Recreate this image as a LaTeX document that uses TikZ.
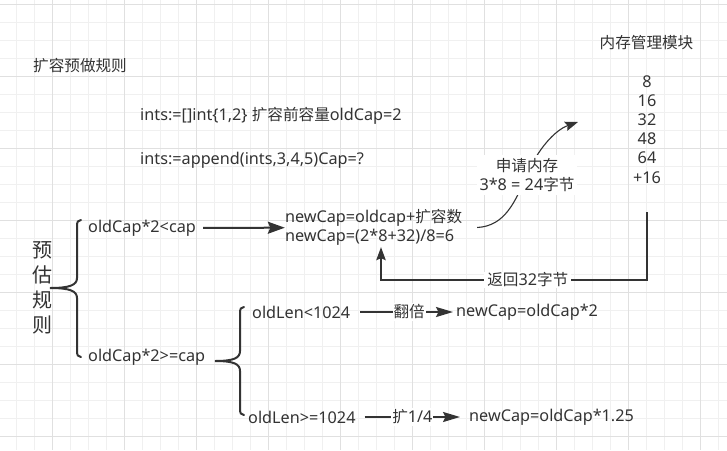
\documentclass[tikz,border=0pt]{standalone}
\usepackage{fontspec}
\setmainfont{Noto Sans}[Scale=1.04]
\newfontfamily\cjk{Noto Sans CJK SC}
\usetikzlibrary{arrows.meta}
\definecolor{ink}{HTML}{333333}
\definecolor{gridminor}{HTML}{F0F0F0}
\definecolor{gridmajor}{HTML}{E0E0E0}
\newcommand{\zh}[1]{{\cjk #1}}

\begin{document}
\begin{tikzpicture}[x=1pt,y=-1pt]

\tikzstyle{txt} = [inner sep=0, text=ink, font=\fontsize{15.6}{19}\selectfont]%
\tikzstyle{txtw} = [txt, anchor=west]%
\tikzstyle{lblbox} = [txt, fill=white, inner xsep=1pt, inner ysep=2pt]%
\tikzstyle{bigarc} = [draw=ink, line width=2pt, -{Stealth[length=17pt,width=12pt,inset=2.5pt]}]%
\tikzstyle{midarc} = [draw=ink, line width=2pt, -{Stealth[length=17pt,width=10pt,inset=2.5pt]}]%
\tikzstyle{thinarc} = [draw=ink, line width=1.1pt, -{Stealth[length=13pt,width=9.5pt,inset=2pt]}]%
\tikzstyle{brace} = [draw=ink, line width=2pt, line cap=round]%

% background grid
\fill[white] (0,0) rectangle (727,450);
\useasboundingbox (0,0) rectangle (727,450);
\foreach \k in {0,...,39} \draw[gridminor, line width=1pt] (16.7+18*\k,0) -- (16.7+18*\k,450);
\foreach \k in {0,...,24} \draw[gridminor, line width=1pt] (0,4+18*\k) -- (727,4+18*\k);
\foreach \k in {0,...,9} \draw[gridmajor, line width=1pt] (52.7+72*\k,0) -- (52.7+72*\k,450);
\foreach \k in {0,...,6} \draw[gridmajor, line width=1pt] (0,4+72*\k) -- (727,4+72*\k);

% texts
\node[txtw] (title) at (33,66) {\zh{扩容预做规则}};
\node[txt] (mem) at (646.5,43) {\zh{内存管理模块}};
\node[txt, align=center, font=\fontsize{15.6}{19.1}\selectfont] (memlist) at (647,129.5) {8\\16\\32\\48\\64\\+16};
\coordinate (memout) at (647,212);

\node[txtw] (ints1) at (140,116) {ints:=[]int\{1,2\} \zh{扩容前容量}oldCap=2};
\node[txtw] (ints2) at (140,160) {ints:=append(ints,3,4,5)Cap=?};

\node[txt, align=center, font=\fontsize{20}{25}\selectfont] (rule) at (42,287.5) {\zh{预}\\\zh{估}\\\zh{规}\\\zh{则}};

\node[txtw] (cond1) at (88,228) {oldCap*2<cap};
\node[txtw] (cond2) at (88,357) {oldCap*2>=cap};
\node[txt, text width=192pt, align=left, minimum height=39pt] (newcap) at (381,227.5)
    {newCap=oldcap+\zh{扩容数}\\newCap=(2*8+32)/8=6};

\node[txtw] (len1) at (252,312) {oldLen<1024};
\node[txtw] (len2) at (248,417) {oldLen>=1024};
\node[txtw] (res1) at (456,312) {newCap=oldCap*2};
\node[txtw] (res2) at (469,417) {newCap=oldCap*1.25};

% braces
\draw[brace] (81,220) .. controls (78,220) and (77,222) .. (77,226)
    -- (77,278) .. controls (77,285) and (70,288) .. (50,288)
    .. controls (70,288) and (77,291) .. (77,298)
    -- (77,351) .. controls (77,355) and (78,357) .. (81,357);
\draw[brace] (244,307) .. controls (241,307) and (240,309) .. (240,313)
    -- (240,351) .. controls (240,358) and (234,361) .. (215,361)
    .. controls (234,361) and (240,364) .. (240,371)
    -- (240,409) .. controls (240,413) and (241,415) .. (244,415);

% arrows
\draw[bigarc, shorten <=7pt] (cond1) -- (newcap);
\draw[midarc, shorten <=10pt, shorten >=3pt] (len1) --
    node[pos=0.556, lblbox] {\zh{翻倍}}
    (res1);
\draw[midarc, shorten <=9pt, shorten >=9pt] (len2) --
    node[pos=0.5, lblbox] {\zh{扩}1/4}
    (res2);

\coordinate (reqtip) at (578,122);
\draw[thinarc] (newcap.east)
    .. controls (505,226) and (515,202) .. (527,175)
    node[txt, fill=white, inner sep=3pt, align=center] (req) {\zh{申请内存}\\3*8 = 24\zh{字节}}
    .. controls (537,150) and (555,130) .. (reqtip);

\draw[thinarc] (memout) -- ++(0,68) -|
    node[pos=0.224, txt, fill=white, inner xsep=3pt, inner ysep=1pt] {\zh{返回}32\zh{字节}}
    (newcap.south);

\end{tikzpicture}
\end{document}
